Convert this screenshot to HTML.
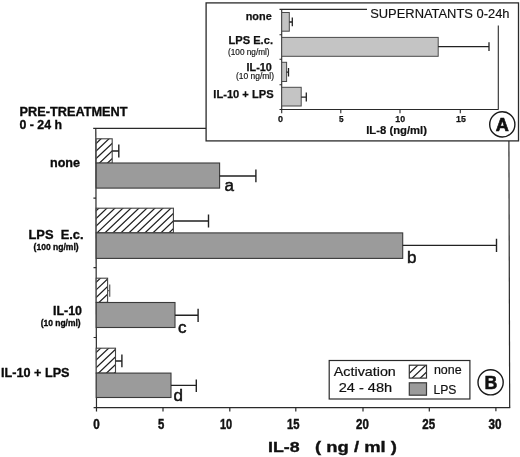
<!DOCTYPE html>
<html><head><meta charset="utf-8">
<style>
html,body{margin:0;padding:0;background:#fff;}
svg{display:block;font-family:"Liberation Sans",sans-serif;will-change:transform;opacity:0.999;}
.b{font-weight:bold;}
</style></head>
<body>
<svg width="520" height="457" viewBox="0 0 520 457">
<defs>
<clipPath id="ch1"><rect x="96.2" y="138.8" width="16" height="24.4"/></clipPath>
<clipPath id="ch2"><rect x="96.2" y="208.2" width="77.2" height="24.6"/></clipPath>
<clipPath id="ch3"><rect x="96.2" y="278.2" width="11.4" height="24.2"/></clipPath>
<clipPath id="ch4"><rect x="96.2" y="348.2" width="19.3" height="24.9"/></clipPath>
<clipPath id="ch5"><rect x="409.3" y="365.2" width="17.2" height="12.9"/></clipPath>
</defs>
<rect width="520" height="457" fill="#fff"/>

<!-- MAIN AXES -->
<g stroke="#2a2a2a" stroke-width="1.2" fill="none">
<path d="M93.2 128.45H206"/>
<path d="M95.8 128.4L96.5 411.6"/>
<path d="M93.6 407.7H510.2"/>
<path d="M508.9 140.8L509.7 407.7"/>
<path d="M93.4 198.2H96M93.5 267.6H96.2M93.6 337.5H96.3"/>
<path d="M163 407.7V411.4M229.8 407.7V411.4M295.8 407.7V411.4M363 407.7V411.4M429.3 407.7V411.4M495.9 407.7V411.2"/>
</g>

<!-- MAIN BARS -->
<rect x="96.2" y="138.8" width="16" height="24.4" fill="#fff"/>
<path clip-path="url(#ch1)" d="M74.23 164.20L102.02 137.80M82.23 164.20L110.02 137.80M90.23 164.20L118.02 137.80M98.23 164.20L126.02 137.80M106.23 164.20L134.02 137.80" stroke="#222" stroke-width="1.25" fill="none"/>
<rect x="96.2" y="138.8" width="16" height="24.4" fill="none" stroke="#444" stroke-width="1.1"/>
<rect x="96.2" y="208.2" width="77.2" height="24.6" fill="#fff"/>
<path clip-path="url(#ch2)" d="M71.95 233.80L99.95 207.20M79.95 233.80L107.95 207.20M87.95 233.80L115.95 207.20M95.95 233.80L123.95 207.20M103.95 233.80L131.95 207.20M111.95 233.80L139.95 207.20M119.95 233.80L147.95 207.20M127.95 233.80L155.95 207.20M135.95 233.80L163.95 207.20M143.95 233.80L171.95 207.20M151.95 233.80L179.95 207.20M159.95 233.80L187.95 207.20M167.95 233.80L195.95 207.20" stroke="#222" stroke-width="1.25" fill="none"/>
<rect x="96.2" y="208.2" width="77.2" height="24.6" fill="none" stroke="#444" stroke-width="1.1"/>
<rect x="96.2" y="278.2" width="11.4" height="24.2" fill="#fff"/>
<path clip-path="url(#ch3)" d="M73.91 303.40L101.48 277.20M81.91 303.40L109.48 277.20M89.91 303.40L117.48 277.20M97.91 303.40L125.48 277.20M105.91 303.40L133.48 277.20" stroke="#222" stroke-width="1.25" fill="none"/>
<rect x="96.2" y="278.2" width="11.4" height="24.2" fill="none" stroke="#444" stroke-width="1.1"/>
<rect x="96.2" y="348.2" width="19.3" height="24.9" fill="#fff"/>
<path clip-path="url(#ch4)" d="M73.41 374.10L101.72 347.20M81.41 374.10L109.72 347.20M89.41 374.10L117.72 347.20M97.41 374.10L125.72 347.20M105.41 374.10L133.72 347.20M113.41 374.10L141.72 347.20" stroke="#222" stroke-width="1.25" fill="none"/>
<rect x="96.2" y="348.2" width="19.3" height="24.9" fill="none" stroke="#444" stroke-width="1.1"/>
<g stroke="#3a3a3a" stroke-width="1.1" fill="#9b9b9b">
<rect x="96.2" y="163" width="123.4" height="25.1"/>
<rect x="96.2" y="232.9" width="306.5" height="25.5"/>
<rect x="96.2" y="302.5" width="78.8" height="25"/>
<rect x="96.2" y="373.1" width="74.8" height="24.4"/>
</g>
<!-- MAIN ERROR BARS -->
<g stroke="#222" stroke-width="1.4" fill="none">
<path d="M112.2 151H118.8M118.8 144.6V157.5"/>
<path d="M219.6 176H255.9M255.9 169.4V182.3"/>
<path d="M173.4 221H208.5M208.5 214.4V227.5"/>
<path d="M402.7 245.4H496.5M496.5 238.8V251.9"/>
<path d="M175 315.3H198.1M198.1 308.8V321.9"/>
<path d="M115.6 361H121.9M121.9 354.4V367.3"/>
<path d="M171 385.4H196.3M196.3 379.4V391.9"/>
</g>
<path d="M107.6 290.6H109.7M109.7 284.5V296.7" stroke="#666" stroke-width="1.3" fill="none"/>
<!-- letters -->
<g font-size="17" fill="#111" stroke="#111" stroke-width="0.5">
<text x="224.5" y="191">a</text>
<text x="407" y="262.6">b</text>
<text x="178" y="332.6">c</text>
<text x="173.5" y="401.2">d</text>
</g>

<!-- LEFT LABELS -->
<g class="b" fill="#0a0a0a" stroke="#0a0a0a" stroke-width="0.32">
<text x="19.5" y="116.3" font-size="12.6" textLength="108" lengthAdjust="spacingAndGlyphs">PRE-TREATMENT</text>
<text x="19.5" y="129.3" font-size="12.6" textLength="42.5" lengthAdjust="spacingAndGlyphs">0 - 24 h</text>
<text x="50" y="166.8" font-size="12.5" textLength="30" lengthAdjust="spacingAndGlyphs">none</text>
<text x="28.5" y="238.5" font-size="12.5" textLength="55" lengthAdjust="spacingAndGlyphs" xml:space="preserve">LPS  E.c.</text>
<text x="33.6" y="249.5" font-size="8.5" textLength="45" lengthAdjust="spacingAndGlyphs">(100 ng/ml)</text>
<text x="53" y="315.2" font-size="12.5" textLength="29" lengthAdjust="spacingAndGlyphs">IL-10</text>
<text x="40.7" y="325.7" font-size="8.5" textLength="40" lengthAdjust="spacingAndGlyphs">(10 ng/ml)</text>
<text x="1" y="377.4" font-size="12.5" textLength="68.5" lengthAdjust="spacingAndGlyphs">IL-10 + LPS</text>
</g>

<!-- MAIN TICK LABELS -->
<g class="b" fill="#111" font-size="14" stroke="#111" stroke-width="0.45">
<text x="93.3" y="428.7" textLength="6.5" lengthAdjust="spacingAndGlyphs">0</text>
<text x="158" y="428.7" textLength="6.3" lengthAdjust="spacingAndGlyphs">5</text>
<text x="220" y="428.7" textLength="12.2" lengthAdjust="spacingAndGlyphs">10</text>
<text x="287" y="428.7" textLength="12.5" lengthAdjust="spacingAndGlyphs">15</text>
<text x="356" y="428.7" textLength="12.8" lengthAdjust="spacingAndGlyphs">20</text>
<text x="422.3" y="428.7" textLength="12.8" lengthAdjust="spacingAndGlyphs">25</text>
<text x="488.6" y="428.7" textLength="13" lengthAdjust="spacingAndGlyphs">30</text>
</g>
<g class="b" fill="#111" font-size="15" stroke="#111" stroke-width="0.35">
<text x="268" y="452" textLength="31.6" lengthAdjust="spacingAndGlyphs">IL-8</text>
<text x="315" y="452" textLength="82" lengthAdjust="spacingAndGlyphs">( ng / ml )</text>
</g>

<!-- LEGEND -->
<rect x="329.2" y="360.5" width="140.7" height="38.5" fill="#fff" stroke="#2a2a2a" stroke-width="1.2"/>
<g font-size="13.3" fill="#111" stroke="#111" stroke-width="0.2">
<text x="333.8" y="376" textLength="62" lengthAdjust="spacingAndGlyphs">Activation</text>
<text x="338.7" y="392" textLength="53.5" lengthAdjust="spacingAndGlyphs">24 - 48h</text>
<text x="433.9" y="374.2" font-size="13" textLength="27.7" lengthAdjust="spacingAndGlyphs">none</text>
<text x="433.5" y="393.8" font-size="12.8" textLength="23" lengthAdjust="spacingAndGlyphs">LPS</text>
</g>
<rect x="409.3" y="365.2" width="17.2" height="12.9" fill="#fff"/>
<path clip-path="url(#ch5)" d="M395.17 379.10L410.85 364.20M403.17 379.10L418.85 364.20M411.17 379.10L426.85 364.20M419.17 379.10L434.85 364.20M427.17 379.10L442.85 364.20" stroke="#222" stroke-width="1.25" fill="none"/>
<rect x="409.3" y="365.2" width="17.2" height="12.9" fill="none" stroke="#333" stroke-width="1.2"/>
<rect x="409.3" y="382.8" width="17.2" height="12.4" fill="#9b9b9b" stroke="#3a3a3a" stroke-width="1.2"/>
<circle cx="490.6" cy="382.3" r="12.6" fill="#fff" stroke="#1a1a1a" stroke-width="1.4"/>
<text x="484.6" y="388.7" class="b" font-size="17.8" fill="#111" stroke="#111" stroke-width="0.5">B</text>

<!-- INSET -->
<rect x="206.1" y="2.9" width="312.4" height="138" fill="#fff" stroke="#2a2a2a" stroke-width="1.3"/>
<g stroke="#2a2a2a" stroke-width="1.1" fill="none">
<path d="M279.5 9.4H367"/>
<path d="M281.7 9.4V113.2"/>
<path d="M279.5 109.5H498.5"/>
<path d="M498.3 25.5V109.5"/>
<path d="M279.5 34.7H281.7M279.5 59.2H281.7M279.5 84.7H281.7"/>
<path d="M340.8 109.5V113.3M400 109.5V113.3M460.3 109.5V113.3"/>
</g>
<g stroke="#4a4a4a" stroke-width="1" fill="#c4c4c4">
<rect x="281.7" y="12.5" width="7.6" height="18.7"/>
<rect x="281.7" y="37.4" width="156.5" height="18.9"/>
<rect x="281.7" y="62.3" width="4.9" height="19.2"/>
<rect x="281.7" y="87.3" width="19.5" height="18.7"/>
</g>
<g stroke="#222" stroke-width="1.3" fill="none">
<path d="M289.3 22H292.3M292.3 17.4V26.3"/>
<path d="M438.2 46.7H489M489 42.3V51.1"/>
<path d="M286.6 72.2H288.5M288.5 67.9V76.6"/>
<path d="M301.2 97.2H306.3M306.3 92.5V101.6"/>
</g>
<g fill="#111">
<text x="370.2" y="17.5" font-size="12.5" textLength="139.3" lengthAdjust="spacingAndGlyphs" stroke="#111" stroke-width="0.15">SUPERNATANTS 0-24h</text>
<g class="b" font-size="11" stroke="#111" stroke-width="0.25">
<text x="245.7" y="19.6" textLength="26" lengthAdjust="spacingAndGlyphs">none</text>
<text x="228.5" y="44.2" textLength="44.5" lengthAdjust="spacingAndGlyphs">LPS E.c.</text>
<text x="246.5" y="70.6" textLength="25.3" lengthAdjust="spacingAndGlyphs">IL-10</text>
<text x="213.3" y="98.3" textLength="60.3" lengthAdjust="spacingAndGlyphs">IL-10 + LPS</text>
</g>
<text x="228" y="55" font-size="8.3" textLength="41.6" lengthAdjust="spacingAndGlyphs" stroke="#111" stroke-width="0.15">(100 ng/ml)</text>
<text x="236" y="79.3" font-size="8.3" textLength="38" lengthAdjust="spacingAndGlyphs" stroke="#111" stroke-width="0.15">(10 ng/ml)</text>
<g class="b" font-size="9.8" stroke="#111" stroke-width="0.25">
<text x="278" y="122.3" textLength="5" lengthAdjust="spacingAndGlyphs">0</text>
<text x="338.9" y="122.3" textLength="4.6" lengthAdjust="spacingAndGlyphs">5</text>
<text x="395.3" y="122.3" textLength="9.8" lengthAdjust="spacingAndGlyphs">10</text>
<text x="456" y="122.3" textLength="9.8" lengthAdjust="spacingAndGlyphs">15</text>
</g>
<text x="366.2" y="134" class="b" font-size="10.6" textLength="60.8" lengthAdjust="spacingAndGlyphs" stroke="#111" stroke-width="0.2">IL-8 (ng/ml)</text>
</g>
<circle cx="502.3" cy="124.4" r="12.6" fill="#fff" stroke="#1a1a1a" stroke-width="1.4"/>
<text x="495.7" y="130.8" class="b" font-size="19.2" fill="#111" stroke="#111" stroke-width="0.7" textLength="13.1" lengthAdjust="spacingAndGlyphs">A</text>
</svg>
</body></html>
